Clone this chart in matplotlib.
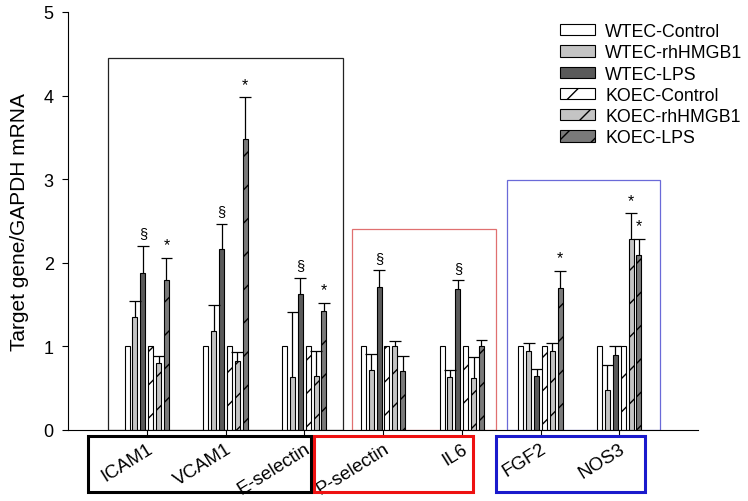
import numpy as np
import matplotlib
matplotlib.use("Agg")
import matplotlib.pyplot as plt
from matplotlib.patches import Rectangle, Patch

plt.rcParams["font.family"] = ["Liberation Sans", "DejaVu Sans"]
plt.rcParams["hatch.linewidth"] = 1.0

# genes on the x axis
genes = ["ICAM1", "VCAM1", "E-selectin", "P-selectin", "IL6", "FGF2", "NOS3"]

# series: mean values and upper error (0 = no error bar drawn)
series_names = ["WTEC-Control", "WTEC-rhHMGB1", "WTEC-LPS",
                "KOEC-Control", "KOEC-rhHMGB1", "KOEC-LPS"]

wtec_control = [1.0, 1.0, 1.0, 1.0, 1.0, 1.0, 1.0]
wtec_control_err = [0, 0, 0, 0, 0, 0, 0]
wtec_hmgb1 = [1.35, 1.19, 0.63, 0.72, 0.63, 0.94, 0.48]
wtec_hmgb1_err = [0.19, 0.30, 0.78, 0.19, 0.09, 0.10, 0.30]
wtec_lps = [1.88, 2.17, 1.63, 1.71, 1.69, 0.64, 0.90]
wtec_lps_err = [0.32, 0.30, 0.19, 0.20, 0.10, 0.09, 0.11]
koec_control = [1.0, 1.0, 1.0, 1.0, 1.0, 1.0, 1.0]
koec_control_err = [0, 0, 0, 0, 0, 0, 0]
koec_hmgb1 = [0.80, 0.83, 0.64, 1.00, 0.62, 0.94, 2.29]
koec_hmgb1_err = [0.09, 0.10, 0.30, 0.07, 0.25, 0.10, 0.30]
koec_lps = [1.79, 3.48, 1.42, 0.70, 1.00, 1.70, 2.09]
koec_lps_err = [0.27, 0.50, 0.10, 0.19, 0.08, 0.20, 0.20]

# significance marks: (gene index, series index, symbol)
marks = [(0, 2, "§"), (0, 5, "*"), (1, 2, "§"), (1, 5, "*"), (2, 2, "§"),
         (2, 5, "*"), (3, 2, "§"), (4, 2, "§"), (5, 5, "*"), (6, 4, "*"),
         (6, 5, "*")]

means = [wtec_control, wtec_hmgb1, wtec_lps, koec_control, koec_hmgb1, koec_lps]
errs = [wtec_control_err, wtec_hmgb1_err, wtec_lps_err,
        koec_control_err, koec_hmgb1_err, koec_lps_err]
colors = ["white", "#c4c4c4", "#5a5a5a", "white", "#c4c4c4", "#7a7a7a"]
hatches = [None, None, None, "/", "/", "/"]

fig = plt.figure(figsize=(7.48, 5.02), dpi=100)
ax = fig.add_axes([68 / 748, 71 / 502, 630 / 748, 418 / 502])

x = np.arange(len(genes))
pitch = 0.1
width = 0.065
cap = 0.075
for k in range(6):
    xs = x + (k - 2.5) * pitch
    ax.bar(xs, means[k], width, color=colors[k], edgecolor="black",
           linewidth=0.8, hatch=hatches[k], zorder=2)
    e = np.array(errs[k])
    m = np.array(means[k])
    has = e > 0
    # upper-only error bars: stem from bar top and a cap
    ax.vlines(xs[has], m[has], m[has] + e[has], color="black", lw=0.9, zorder=3)
    ax.hlines(m[has] + e[has], xs[has] - cap, xs[has] + cap, color="black",
              lw=0.9, zorder=3)

for g, k, sym in marks:
    top = means[k][g] + errs[k][g]
    ax.annotate(sym, (g + (k - 2.5) * pitch, top), xytext=(0, 4),
                textcoords="offset points", ha="center", va="bottom",
                fontsize=10.5 if sym == "§" else 11.5)

# group frames inside the plot
frames = [(-0.49, 2.49, 4.45, "#222222"), (2.60, 4.44, 2.40, "#e07070"),
          (4.58, 6.52, 2.99, "#6a6ad8")]
for x0, x1, top, c in frames:
    ax.add_patch(Rectangle((x0, 0), x1 - x0, top, fill=False, ec=c,
                           lw=0.9, zorder=1))

ax.set_xlim(-1, 7)
ax.set_ylim(0, 5)
ax.set_yticks(range(6))
ax.tick_params(axis="y", labelsize=13, length=4.3, width=0.8, pad=6)
ax.set_xticks(x)
ax.set_xticklabels(genes, rotation=32, ha="right", rotation_mode="anchor",
                   fontsize=13.5)
ax.tick_params(axis="x", length=5, width=0.8, pad=2)
for s in ["top", "right"]:
    ax.spines[s].set_visible(False)
for s in ["left", "bottom"]:
    ax.spines[s].set_linewidth(0.8)

ax.set_ylabel("Target gene/GAPDH mRNA", fontsize=15)
ax.yaxis.set_label_coords(-0.062, 0.5)

# label boxes below the axis
label_boxes = [(88, 311, "black"), (314, 473, "#ee1111"), (496, 645, "#1a1acc")]
for x0, x1, c in label_boxes:
    fig.add_artist(Rectangle((x0 / 748, 9 / 502), (x1 - x0) / 748, 56 / 502,
                             transform=fig.transFigure, fill=False, ec=c,
                             lw=2.2))

handles = [Patch(facecolor=colors[k], edgecolor="black", hatch=hatches[k],
                 linewidth=0.8) for k in range(6)]
fig.legend(handles, series_names, loc="upper left",
           bbox_to_anchor=(560 / 748, 1 - 24 / 502), frameon=False,
           fontsize=12.8, borderpad=0, borderaxespad=0, handlelength=1.95,
           handleheight=0.6, handletextpad=0.6, labelspacing=0.24)

fig.savefig("out.png", dpi=100)
